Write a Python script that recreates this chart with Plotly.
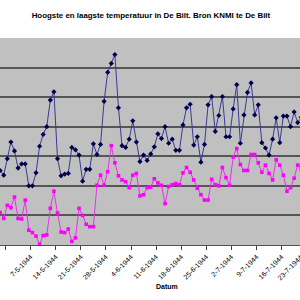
import plotly.graph_objects as go
import pandas as pd

start_date = "1944-04-28"
hoogste = [12.6, 11.8, 14.6, 17.4, 15.9, 13.0, 13.7, 13.7, 10.0, 10.0,
           12.2, 16.7, 18.7, 20.0, 24.5, 25.9, 14.6, 11.7, 12.0, 12.1,
           16.5, 16.1, 15.2, 10.8, 12.8, 12.8, 17.1, 15.3, 17.0, 24.3,
           29.2, 30.7, 32.2, 23.2, 16.8, 16.5, 17.9, 21.0, 17.4, 14.1,
           15.2, 14.3, 15.4, 16.6, 18.8, 18.0, 20.0, 17.2, 17.9, 16.0,
           16.0, 20.3, 23.2, 23.8, 16.9, 18.3, 14.0, 17.0, 23.7, 25.1,
           19.2, 21.9, 25.1, 18.3, 18.3, 23.0, 27.1, 17.2, 22.0, 25.8,
           27.4, 22.0, 23.7, 17.3, 16.4, 15.2, 17.9, 21.5, 17.3, 21.8,
           21.8, 20.0, 22.5, 20.7, 21.6]
laagste = [5.5, 4.5, 6.7, 6.3, 8.1, 4.5, 4.4, 7.6, 2.5, 2.1,
           1.5, 0.1, 1.6, 1.7, 6.2, 9.1, 5.4, 2.2, 2.1, 2.7,
           0.6, 1.2, 6.2, 5.0, 3.5, 3.1, 3.1, 10.1, 11.8, 10.1,
           12.4, 16.8, 13.9, 11.7, 11.0, 10.7, 9.7, 11.8, 12.1, 8.3,
           8.5, 9.7, 9.8, 11.2, 10.5, 10.1, 7.0, 9.9, 10.2, 10.4,
           10.2, 12.2, 13.1, 12.3, 11.0, 9.6, 8.5, 7.6, 7.6, 11.1,
           10.2, 10.0, 13.1, 11.4, 10.1, 14.9, 16.3, 13.6, 12.6, 12.6,
           15.3, 15.3, 13.9, 12.3, 13.5, 12.1, 11.0, 14.4, 13.5, 11.8,
           9.1, 9.7, 11.3, 13.5, 12.7]
tick_labels = ["30-4-1944", "7-5-1944", "14-5-1944", "21-5-1944", "28-5-1944",
               "4-6-1944", "11-6-1944", "18-6-1944", "25-6-1944", "2-7-1944",
               "9-7-1944", "16-7-1944", "23-7-1944"]

dates = pd.date_range(start_date, periods=len(hoogste), freq="D")
tickvals = [pd.to_datetime(t, format="%d-%m-%Y") - pd.Timedelta(hours=12) for t in tick_labels]

fig = go.Figure()
fig.add_trace(go.Scatter(
    x=dates, y=hoogste, mode="lines+markers",
    line=dict(color="#3a3a96", width=1),
    marker=dict(symbol="diamond", size=4, color="#000050"),
    name="Hoogste"))
fig.add_trace(go.Scatter(
    x=dates, y=laagste, mode="lines+markers",
    line=dict(color="#e830e8", width=1),
    marker=dict(symbol="square", size=3.6, color="#ff00ff"),
    name="Laagste"))

x0 = dates[0] - pd.Timedelta(hours=1)
x1 = x0 + pd.Timedelta(days=300 / 3.585)

# labels whose ticks sit just outside the visible plot edges (drawn as paper annotations)
edge_annotations = []
for t, tv in zip(tick_labels, tickvals):
    if tv > x1:
        frac = (tv - x0) / (x1 - x0)
        edge_annotations.append(dict(
            text=t, xref="paper", yref="paper", x=frac, y=-(251 - 245) / 207,
            xanchor="right", yanchor="top", textangle=-45, showarrow=False,
            font=dict(size=7, color="black")))

fig.update_layout(
    width=300, height=300,
    margin=dict(l=0, r=0, t=38, b=55),
    paper_bgcolor="white", plot_bgcolor="#c0c0c0",
    showlegend=False,
    font=dict(family="Liberation Sans, Arial, sans-serif", color="black"),
    title=dict(text="<b>Hoogste en laagste temperatuur in De Bilt. Bron KNMI te De Bilt</b>",
               x=0.503, xanchor="center", yref="container", y=1 - 15.7 / 300,
               yanchor="middle", font=dict(size=7.9, color="black")),
    xaxis=dict(range=[x0, x1], tickmode="array", tickvals=tickvals, ticktext=tick_labels,
               tickangle=-45, tickfont=dict(size=7, color="black"),
               ticks="outside", ticklen=4, tickcolor="#404040",
               showline=True, linecolor="#505050", linewidth=1,
               showgrid=False, zeroline=False),
    yaxis=dict(range=[0, 35], dtick=5, showticklabels=False, ticks="",
               showgrid=True, gridcolor="#555555", gridwidth=1.5,
               zeroline=False, showline=False),
    annotations=[dict(text="<b>Datum</b>", xref="paper", yref="paper",
                      x=167 / 300, y=-(286 - 245) / 207, xanchor="center", yanchor="middle",
                      showarrow=False, font=dict(size=7, color="black"))] + edge_annotations,
)

fig.write_html("out.html")
